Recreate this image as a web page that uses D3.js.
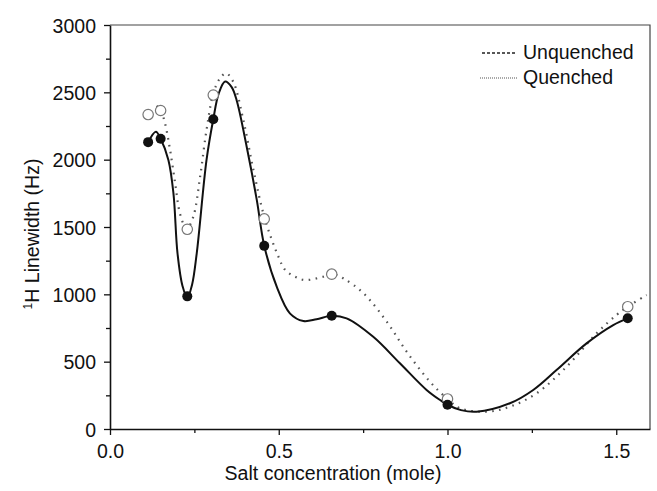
<!DOCTYPE html>
<html>
<head>
<meta charset="utf-8">
<script src="https://cdn.jsdelivr.net/npm/d3@7"></script>
<style>
  body { margin: 0; background: #fff; }
  text { font-family: "Liberation Sans", Arial, sans-serif; fill: #111; }
</style>
</head>
<body>
<div id="chart"></div>
<script>
// measured points: salt concentration (mole) vs 1H linewidth (Hz)
var conc = [0.113, 0.150, 0.229, 0.306, 0.457, 0.657, 1.000, 1.534];
var quenched = [2130, 2155, 985, 2300, 1360, 841, 180, 822];
var unquenched = [2335, 2365, 1483, 2480, 1560, 1150, 223, 908];

// fitted curves
var fitQuenched = [[0.113,2130],[0.136,2208],[0.150,2155],[0.173,1998],[0.188,1750],[0.200,1305],
  [0.215,1060],[0.229,975],[0.243,1070],[0.257,1305],[0.286,1998],[0.306,2300],[0.322,2490],
  [0.341,2580],[0.360,2540],[0.375,2443],[0.405,2096],[0.435,1700],[0.457,1361],[0.494,1057],
  [0.533,859],[0.573,802],[0.612,815],[0.657,841],[0.701,822],[0.780,685],[0.859,488],[0.938,290],
  [0.978,215],[1.000,180],[1.040,140],[1.086,128],[1.185,191],[1.254,290],[1.323,438],[1.412,636],
  [1.491,772],[1.534,822]];
var fitUnquenched = [[0.138,2400],[0.150,2370],[0.163,2270],[0.178,2072],[0.193,1825],[0.207,1602],
  [0.222,1502],[0.229,1490],[0.247,1577],[0.267,1874],[0.286,2220],[0.306,2490],[0.325,2600],
  [0.344,2641],[0.365,2579],[0.395,2295],[0.425,1923],[0.459,1559],[0.499,1280],[0.519,1181],
  [0.548,1131],[0.578,1106],[0.632,1131],[0.657,1151],[0.691,1119],[0.751,1008],[0.820,797],
  [0.879,574],[0.948,351],[1.000,223],[1.037,154],[1.116,128],[1.185,166],[1.264,265],[1.353,463],
  [1.442,711],[1.501,847],[1.534,908],[1.590,995]];

var xTicks = [0, 0.5, 1.0, 1.5];
var xMinor = [0.25, 0.75, 1.25];
var yTicks = [0, 500, 1000, 1500, 2000, 2500, 3000];
var yMinor = [250, 750, 1250, 1750, 2250, 2750];
var legendNames = ["Unquenched", "Quenched"];

var W = 657, H = 491;
var pLeft = 110, pRight = 650, pTop = 25, pBottom = 429;

var svg = d3.select("#chart").append("svg").attr("width", W).attr("height", H);

var x = d3.scaleLinear().domain([0, 1.6]).range([pLeft, pRight]);
var y = d3.scaleLinear().domain([0, 3000]).range([pBottom, pTop]);

// frame (top and right)
svg.append("path")
  .attr("d", "M" + pLeft + "," + pTop + "H" + pRight + "V" + pBottom)
  .attr("fill", "none").attr("stroke", "#444").attr("stroke-width", 1.2);

// x axis
var gx = svg.append("g").attr("transform", "translate(0," + pBottom + ")");
gx.call(d3.axisBottom(x).tickValues(xTicks).tickSize(6).tickSizeOuter(0).tickFormat(d3.format(".1f")));
svg.append("g").attr("transform", "translate(0," + pBottom + ")")
  .call(d3.axisBottom(x).tickValues(xMinor).tickSize(4).tickSizeOuter(0).tickFormat(""))
  .select(".domain").remove();

// y axis
var gy = svg.append("g").attr("transform", "translate(" + pLeft + ",0)");
gy.call(d3.axisLeft(y).tickValues(yTicks).tickSize(6).tickSizeOuter(0).tickFormat(d3.format("d")));
svg.append("g").attr("transform", "translate(" + pLeft + ",0)")
  .call(d3.axisLeft(y).tickValues(yMinor).tickSize(4).tickSizeOuter(0).tickFormat(""))
  .select(".domain").remove();

svg.selectAll(".domain").attr("stroke", "#111").attr("stroke-width", 1.6);
svg.selectAll(".tick line").attr("stroke", "#111").attr("stroke-width", 1.3);
gx.selectAll(".tick text").attr("font-size", 19.5).attr("dy", "1.05em")
  .attr("font-family", "Liberation Sans, Arial, sans-serif").attr("fill", "#111");
gy.selectAll(".tick text").attr("font-size", 19.5).attr("x", -14).attr("dy", "0.36em")
  .attr("font-family", "Liberation Sans, Arial, sans-serif").attr("fill", "#111");

// axis titles
svg.append("text").attr("x", 333).attr("y", 480).attr("text-anchor", "middle")
  .attr("font-size", 19.5).text("Salt concentration (mole)");
var yt = svg.append("text").attr("transform", "translate(39,234) rotate(-90)")
  .attr("text-anchor", "middle").attr("font-size", 19.5);
yt.append("tspan").attr("font-size", 12).attr("dy", -7).text("1");
yt.append("tspan").attr("dy", 7).text("H Linewidth (Hz)");

// curves
var line = d3.line()
  .x(function(d){ return x(d[0]); })
  .y(function(d){ return y(d[1]); })
  .curve(d3.curveCatmullRom.alpha(0.5));

svg.append("path").datum(fitUnquenched).attr("d", line)
  .attr("fill", "none").attr("stroke", "#555").attr("stroke-width", 2.2)
  .attr("stroke-dasharray", "1.6,5.4");

svg.append("path").datum(fitQuenched).attr("d", line)
  .attr("fill", "none").attr("stroke", "#111").attr("stroke-width", 2);

// points
svg.append("g").selectAll("circle").data(conc).enter().append("circle")
  .attr("cx", function(d){ return x(d); })
  .attr("cy", function(d, i){ return y(unquenched[i]); })
  .attr("r", 5.2).attr("fill", "#fff").attr("stroke", "#777").attr("stroke-width", 1.2);

svg.append("g").selectAll("circle").data(conc).enter().append("circle")
  .attr("cx", function(d){ return x(d); })
  .attr("cy", function(d, i){ return y(quenched[i]); })
  .attr("r", 5).attr("fill", "#111");

// legend
var lg = svg.append("g");
lg.append("line").attr("x1", 482).attr("x2", 517).attr("y1", 53).attr("y2", 53)
  .attr("stroke", "#222").attr("stroke-width", 1.5).attr("stroke-dasharray", "3,2");
lg.append("line").attr("x1", 480).attr("x2", 517).attr("y1", 78).attr("y2", 78)
  .attr("stroke", "#555").attr("stroke-width", 1.2).attr("stroke-dasharray", "1,1");
lg.selectAll("text").data(legendNames).enter().append("text")
  .attr("x", 523).attr("y", function(d, i){ return 59 + i * 25; })
  .attr("font-size", 19.5).text(function(d){ return d; });
</script>
</body>
</html>
